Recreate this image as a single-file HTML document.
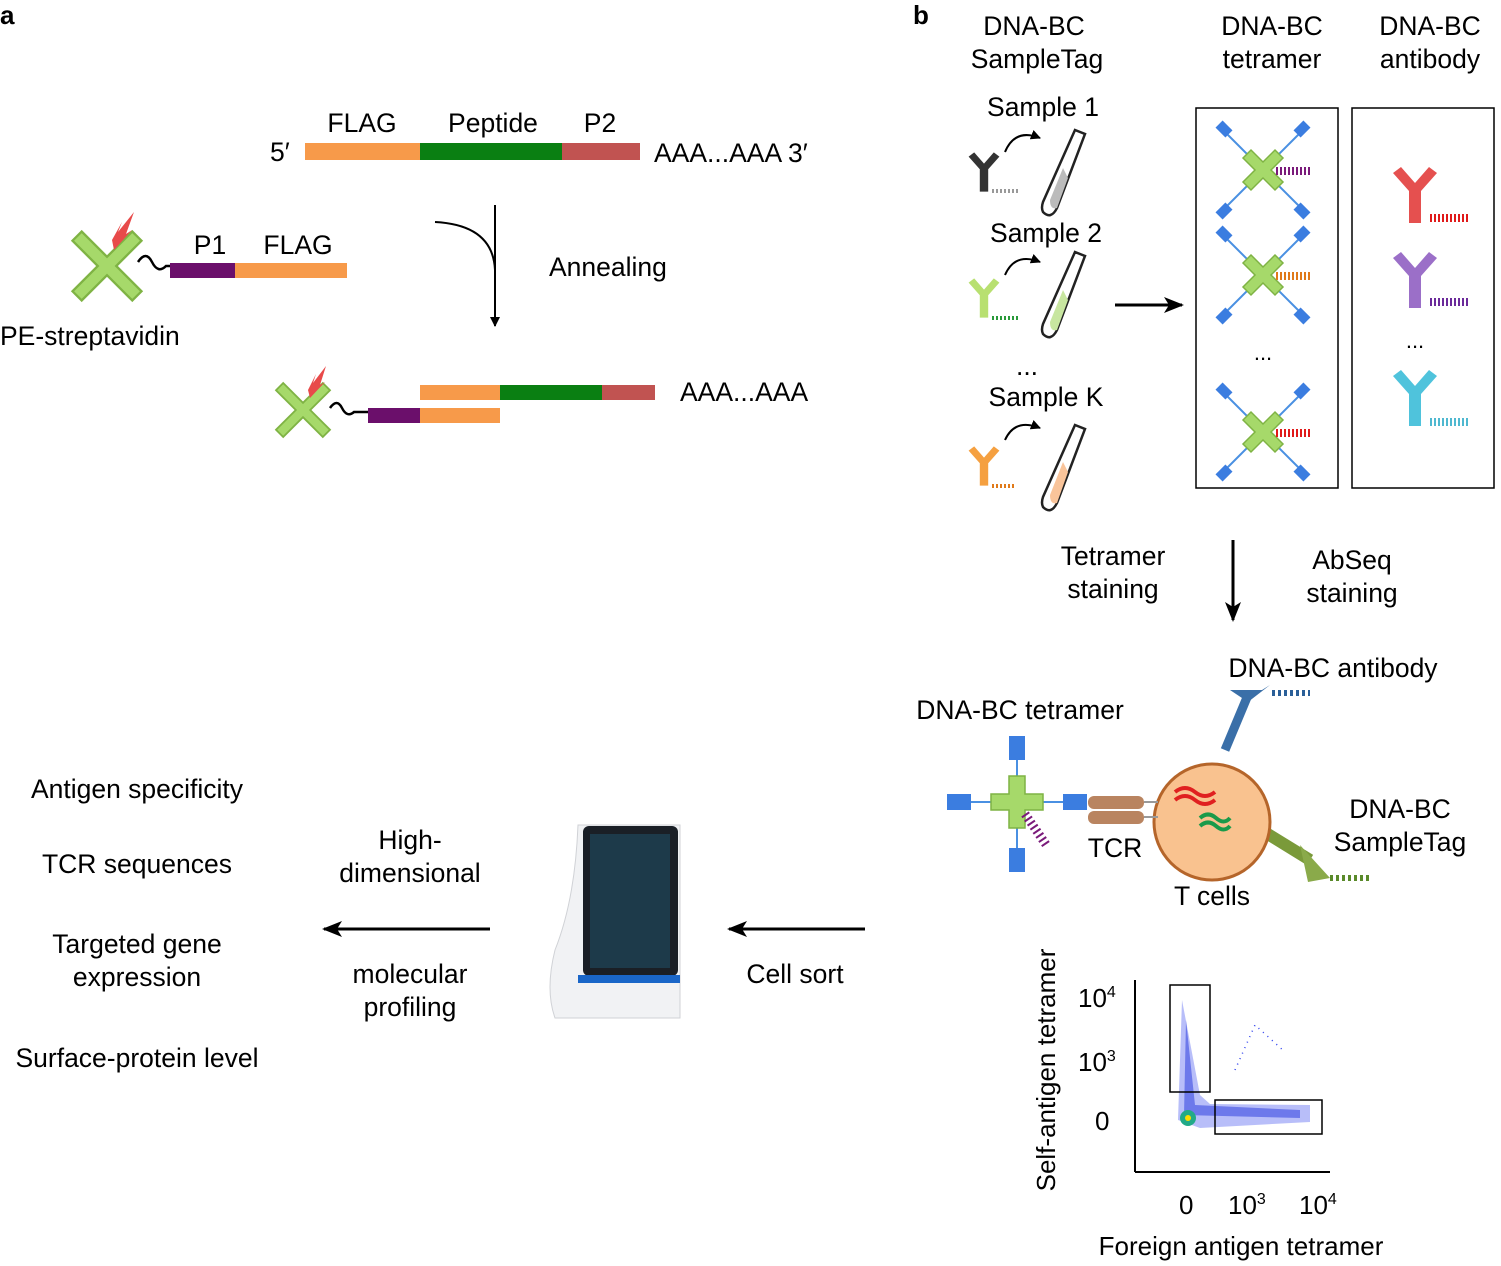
<!DOCTYPE html>
<html><head><meta charset="utf-8"><style>
body{margin:0;background:#fff}
svg text{font-family:"Liberation Sans",sans-serif;fill:#000}
</style></head><body>
<svg width="1501" height="1261" viewBox="0 0 1501 1261" xmlns="http://www.w3.org/2000/svg">
<defs>
<marker id="ah" markerWidth="10" markerHeight="10" refX="9" refY="5" orient="auto" markerUnits="userSpaceOnUse"><path d="M0,0 L10,5 L0,10 Z" fill="#000"/></marker>
<marker id="ah2" markerWidth="20" markerHeight="16" refX="18" refY="8" orient="auto" markerUnits="userSpaceOnUse"><path d="M0,0 L20,8 L0,16 L5,8 Z" fill="#000"/></marker>
<g id="xs"><path d="M-30,-22 L-22,-30 L0,-8 L22,-30 L30,-22 L8,0 L30,22 L22,30 L0,8 L-22,30 L-30,22 L-8,0 Z" fill="#a6d96a" stroke="#7fb344" stroke-width="2"/></g>
<g id="tet">
<line x1="-40" y1="-40" x2="40" y2="40" stroke="#4a90e2" stroke-width="2"/><line x1="40" y1="-40" x2="-40" y2="40" stroke="#4a90e2" stroke-width="2"/>
<rect x="-46" y="-46" width="14" height="10" fill="#3b7de0" transform="rotate(45 -39 -41)"/>
<rect x="32" y="-46" width="14" height="10" fill="#3b7de0" transform="rotate(-45 39 -41)"/>
<rect x="-46" y="36" width="14" height="10" fill="#3b7de0" transform="rotate(-45 -39 41)"/>
<rect x="32" y="36" width="14" height="10" fill="#3b7de0" transform="rotate(45 39 41)"/>
<path d="M-20,-12 L-12,-20 L0,-8 L12,-20 L20,-12 L8,0 L20,12 L12,20 L0,8 L-12,20 L-20,12 L-8,0 Z" fill="#a6d96a" stroke="#7fb344" stroke-width="1.5"/>
</g>
<g id="ab"><path d="M-22,-22 L-14,-28 L0,-12 L14,-28 L22,-22 L6,-4 L6,28 L-6,28 L-6,-4 Z"/></g>
<g id="tube"><path d="M30,0 L40,4 L12,78 Q6,90 -2,82 Q-4,78 -2,72 Z" fill="#fff" stroke="#222" stroke-width="2.5"/></g>
</defs>

<text x="0" y="24" font-size="26" font-weight="bold">a</text>
<text x="913" y="24" font-size="26" font-weight="bold">b</text>

<g font-size="26.5">
<text x="270" y="161">5′</text>
<text x="362" y="132" text-anchor="middle">FLAG</text>
<text x="493" y="132" text-anchor="middle">Peptide</text>
<text x="600" y="132" text-anchor="middle">P2</text>
<text x="654" y="162">AAA...AAA  3′</text>
<text x="549" y="276">Annealing</text>
<text x="210" y="254" text-anchor="middle">P1</text>
<text x="298" y="254" text-anchor="middle">FLAG</text>
<text x="0" y="345">PE-streptavidin</text>
<text x="680" y="401">AAA...AAA</text>
</g>
<rect x="305" y="143" width="115" height="17" fill="#f79a4a"/>
<rect x="420" y="143" width="142" height="17" fill="#0a7f12"/>
<rect x="562" y="143" width="78" height="17" fill="#c15351"/>

<path d="M435,222 Q493,225 495,270" fill="none" stroke="#000" stroke-width="2"/>
<line x1="495" y1="205" x2="495" y2="326" stroke="#000" stroke-width="2" marker-end="url(#ah)"/>

<use href="#xs" transform="translate(107,266) scale(1.15)"/>
<path d="M112,240 L122,222 L118,232 L134,212 L126,234 L132,230 L114,250 Z" fill="#e84a4a"/>
<path d="M138,262 q8,-12 14,0 t14,4 l6,0" fill="none" stroke="#000" stroke-width="2.5"/>
<rect x="170" y="263" width="65" height="15" fill="#6b0f6b"/>
<rect x="235" y="263" width="112" height="15" fill="#f79a4a"/>

<use href="#xs" transform="translate(303,410) scale(0.9)"/>
<path d="M308,390 L316,374 L313,383 L326,366 L320,385 L325,382 L310,398 Z" fill="#e84a4a"/>
<path d="M330,408 q7,-10 12,0 t12,4 l14,0" fill="none" stroke="#000" stroke-width="2.5"/>
<rect x="368" y="408" width="52" height="15" fill="#6b0f6b"/>
<rect x="420" y="408" width="80" height="15" fill="#f79a4a"/>
<rect x="420" y="385" width="80" height="15" fill="#f79a4a"/>
<rect x="500" y="385" width="102" height="15" fill="#0a7f12"/>
<rect x="602" y="385" width="53" height="15" fill="#c15351"/>

<g font-size="26.5" text-anchor="middle">
<text x="1034" y="35">DNA-BC</text><text x="1037" y="68">SampleTag</text>
<text x="1272" y="35">DNA-BC</text><text x="1272" y="68">tetramer</text>
<text x="1430" y="35">DNA-BC</text><text x="1430" y="68">antibody</text>
<text x="1043" y="116">Sample 1</text>
<text x="1046" y="242">Sample 2</text>
<text x="1027" y="375">...</text>
<text x="1046" y="406">Sample K</text>
</g>
<g>
<path d="M1005,152 Q1015,128 1040,138" fill="none" stroke="#000" stroke-width="2" marker-end="url(#ah)"/>
<use href="#tube" transform="translate(1045,130)"/>
<path d="M1063,168 L1050,200 Q1050,210 1057,208 L1068,178 Z" fill="#bbb"/>
<use href="#ab" transform="translate(984,172) scale(0.7)" fill="#333"/>
<line x1="992" y1="191" x2="1018" y2="191" stroke="#999" stroke-width="4" stroke-dasharray="2,2"/>
<path d="M1005,275 Q1015,252 1040,262" fill="none" stroke="#000" stroke-width="2" marker-end="url(#ah)"/>
<use href="#tube" transform="translate(1045,252)"/>
<path d="M1063,290 L1050,322 Q1050,332 1057,330 L1068,300 Z" fill="#c8e6a0"/>
<use href="#ab" transform="translate(984,298) scale(0.7)" fill="#b8e070"/>
<line x1="992" y1="318" x2="1018" y2="318" stroke="#2a9a3a" stroke-width="4" stroke-dasharray="2,2"/>
<path d="M1005,440 Q1015,418 1040,428" fill="none" stroke="#000" stroke-width="2" marker-end="url(#ah)"/>
<use href="#tube" transform="translate(1045,425)"/>
<path d="M1063,462 L1050,495 Q1050,505 1057,503 L1068,472 Z" fill="#f9c49a"/>
<use href="#ab" transform="translate(984,466) scale(0.7)" fill="#f5a040"/>
<line x1="992" y1="486" x2="1014" y2="486" stroke="#e07a1a" stroke-width="4" stroke-dasharray="2,2"/>
</g>
<line x1="1115" y1="305" x2="1182" y2="305" stroke="#000" stroke-width="3" marker-end="url(#ah2)"/>

<rect x="1196" y="108" width="142" height="380" fill="none" stroke="#000" stroke-width="1.5"/>
<rect x="1352" y="108" width="142" height="380" fill="none" stroke="#000" stroke-width="1.5"/>
<use href="#tet" transform="translate(1263,170)"/>
<line x1="1276" y1="171" x2="1312" y2="171" stroke="#7a1a7a" stroke-width="8" stroke-dasharray="2,2"/>
<use href="#tet" transform="translate(1263,275)"/>
<line x1="1276" y1="276" x2="1312" y2="276" stroke="#e07a1a" stroke-width="8" stroke-dasharray="2,2"/>
<text x="1263" y="360" font-size="22" text-anchor="middle">...</text>
<use href="#tet" transform="translate(1263,432)"/>
<line x1="1276" y1="433" x2="1312" y2="433" stroke="#e01a1a" stroke-width="8" stroke-dasharray="2,2"/>

<use href="#ab" transform="translate(1415,195)" fill="#e5504f"/>
<line x1="1430" y1="218" x2="1470" y2="218" stroke="#e01a1a" stroke-width="8" stroke-dasharray="2,2"/>
<use href="#ab" transform="translate(1415,280)" fill="#9b6fc8"/>
<line x1="1430" y1="302" x2="1468" y2="302" stroke="#6b2a9a" stroke-width="8" stroke-dasharray="2,2"/>
<text x="1415" y="348" font-size="22" text-anchor="middle">...</text>
<use href="#ab" transform="translate(1415,398)" fill="#4fc3dc"/>
<line x1="1430" y1="422" x2="1468" y2="422" stroke="#4fb8d0" stroke-width="8" stroke-dasharray="2,2"/>

<line x1="1233" y1="540" x2="1233" y2="620" stroke="#000" stroke-width="3" marker-end="url(#ah2)"/>
<g font-size="26.5" text-anchor="middle">
<text x="1113" y="565">Tetramer</text><text x="1113" y="598">staining</text>
<text x="1352" y="569">AbSeq</text><text x="1352" y="602">staining</text>
<text x="1333" y="677">DNA-BC antibody</text>
<text x="1020" y="719">DNA-BC tetramer</text>
<text x="1400" y="818">DNA-BC</text><text x="1400" y="851">SampleTag</text>
<text x="1115" y="857">TCR</text>
<text x="1212" y="905">T cells</text>
</g>

<line x1="1225" y1="750" x2="1248" y2="695" stroke="#3a6fa8" stroke-width="9"/>
<path d="M1230,690 L1262,690 L1270,685 L1248,702 Z" fill="#3a6fa8"/>
<line x1="1272" y1="693" x2="1310" y2="693" stroke="#2a5f98" stroke-width="6" stroke-dasharray="3,3"/>
<line x1="1258" y1="828" x2="1310" y2="860" stroke="#7a9a3a" stroke-width="12"/>
<path d="M1300,845 L1330,878 L1308,882 Z" fill="#8aaa4a"/>
<line x1="1330" y1="878" x2="1370" y2="878" stroke="#5a8a2a" stroke-width="6" stroke-dasharray="3,3"/>
<circle cx="1212" cy="822" r="58" fill="#f9c28f" stroke="#b5652a" stroke-width="3"/>
<path d="M1175,792 q10,-8 20,0 t20,0 M1175,800 q10,-8 20,0 t20,0" fill="none" stroke="#e02020" stroke-width="4"/>
<path d="M1200,818 q8,-7 16,0 t14,0 M1200,826 q8,-7 16,0 t14,0" fill="none" stroke="#1a9a4a" stroke-width="4"/>
<rect x="1088" y="796" width="56" height="13" rx="6" fill="#b98460"/>
<rect x="1088" y="811" width="56" height="13" rx="6" fill="#b98460"/>
<line x1="1144" y1="802" x2="1158" y2="802" stroke="#999" stroke-width="2"/>
<line x1="1144" y1="817" x2="1158" y2="817" stroke="#999" stroke-width="2"/>
<g transform="translate(1017,802)">
<line x1="-58" y1="0" x2="58" y2="0" stroke="#4a90e2" stroke-width="2"/><line x1="0" y1="-55" x2="0" y2="58" stroke="#4a90e2" stroke-width="2"/>
<rect x="-70" y="-8" width="24" height="16" fill="#3b7de0"/><rect x="46" y="-8" width="24" height="16" fill="#3b7de0"/>
<rect x="-8" y="-66" width="16" height="24" fill="#3b7de0"/><rect x="-8" y="46" width="16" height="24" fill="#3b7de0"/>
<path d="M-8,-26 L8,-26 L8,-8 L26,-8 L26,8 L8,8 L8,26 L-8,26 L-8,8 L-26,8 L-26,-8 L-8,-8 Z" fill="#a6d96a" stroke="#7fb344" stroke-width="1.5"/>
<line x1="8" y1="12" x2="30" y2="44" stroke="#7a1a7a" stroke-width="9" stroke-dasharray="2,3"/>
</g>

<line x1="1135" y1="980" x2="1135" y2="1172" stroke="#000" stroke-width="2"/>
<line x1="1135" y1="1172" x2="1330" y2="1172" stroke="#000" stroke-width="2"/>
<g font-size="26">
<text x="1078" y="1007">10<tspan font-size="16" dy="-10">4</tspan></text>
<text x="1078" y="1071">10<tspan font-size="16" dy="-10">3</tspan></text>
<text x="1095" y="1130">0</text>
<text x="1179" y="1214">0</text>
<text x="1228" y="1214">10<tspan font-size="16" dy="-10">3</tspan></text>
<text x="1299" y="1214">10<tspan font-size="16" dy="-10">4</tspan></text>
<text x="1241" y="1255" text-anchor="middle">Foreign antigen tetramer</text>
<text transform="translate(1055,1070) rotate(-90)" text-anchor="middle">Self-antigen tetramer</text>
</g>
<path d="M1182,1000 L1178,1120 L1200,1128 L1310,1122 L1310,1105 L1210,1104 L1200,1095 Z" fill="#3344ee" opacity="0.35"/>
<path d="M1186,1020 L1184,1115 L1300,1118 L1300,1110 L1195,1105 Z" fill="#2233dd" opacity="0.5"/>
<path d="M1235,1070 L1255,1025 L1285,1052" fill="none" stroke="#3344ee" stroke-width="1.5" stroke-dasharray="1,5"/>
<circle cx="1188" cy="1118" r="8" fill="#2a8"/>
<circle cx="1188" cy="1118" r="3" fill="#fd0"/>
<rect x="1170" y="985" width="40" height="107" fill="none" stroke="#000" stroke-width="1.5"/>
<rect x="1215" y="1100" width="107" height="34" fill="none" stroke="#000" stroke-width="1.5"/>

<g font-size="26.5" text-anchor="middle">
<text x="137" y="798">Antigen specificity</text>
<text x="137" y="873">TCR sequences</text>
<text x="137" y="953">Targeted gene</text><text x="137" y="986">expression</text>
<text x="137" y="1067">Surface-protein level</text>
<text x="410" y="849">High-</text><text x="410" y="882">dimensional</text>
<text x="410" y="983">molecular</text><text x="410" y="1016">profiling</text>
<text x="795" y="983">Cell sort</text>
</g>
<line x1="490" y1="929" x2="324" y2="929" stroke="#000" stroke-width="3" marker-end="url(#ah2)"/>
<line x1="865" y1="929" x2="729" y2="929" stroke="#000" stroke-width="3" marker-end="url(#ah2)"/>
<path d="M578,825 L680,825 L680,1018 L555,1018 Q545,990 555,950 Q575,900 578,825 Z" fill="#f1f2f4" stroke="#d0d2d6"/>
<rect x="583" y="826" width="95" height="150" rx="6" fill="#1a1f26"/>
<rect x="590" y="834" width="80" height="134" fill="#1d3a4a"/>
<rect x="578" y="975" width="102" height="8" fill="#1a66c8"/>
</svg>
</body></html>
